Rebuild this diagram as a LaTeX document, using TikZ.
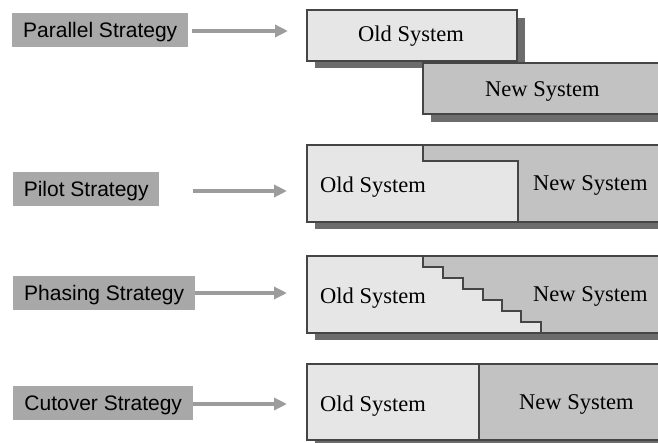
\documentclass[tikz,border=0pt]{standalone}
\usepackage{fontspec}
\setmainfont{Liberation Serif}
\newfontfamily\labfont{Liberation Sans}
\usetikzlibrary{arrows.meta}
\definecolor{oldc}{HTML}{E6E6E6}
\definecolor{newc}{HTML}{C2C2C2}
\definecolor{shad}{HTML}{6C6C6C}
\definecolor{labc}{HTML}{A8A8A8}
\definecolor{arrc}{HTML}{9C9C9C}
\definecolor{edgec}{HTML}{454545}
\begin{document}
\begin{tikzpicture}[x=1pt,y=-1pt,
  lab/.style={rectangle, fill=labc, anchor=west, inner sep=0pt, minimum height=34pt,
    text height=15pt, text depth=0pt, font=\labfont\fontsize{21}{25}\selectfont},
  sys/.style={anchor=base west, inner sep=0pt, font=\fontsize{22.5}{27}\selectfont},
  arr/.style={draw=arrc, line width=3.5pt, -{Triangle[length=13pt,width=12pt]}},
  bx/.style={draw=edgec, line width=1.2pt},
  sh/.style={fill=shad}]
\useasboundingbox (0,0) rectangle (658,442);
\clip (0,0) rectangle (658,442);

% ---------- labels ----------
\node[lab, minimum width=176pt] (parlab) at (12,30) {Parallel Strategy};
\node[lab, minimum width=146pt] (pillab) at (13,189) {Pilot Strategy};
\node[lab, minimum width=182pt] (phalab) at (13,292.5) {Phasing Strategy};
\node[lab, minimum width=180pt] (cutlab) at (13,402.5) {Cutover Strategy};

% arrow ends
\coordinate (parend) at (288,31);
\coordinate (pilend) at (287,191);
\coordinate (phaend) at (287,293);
\coordinate (cutend) at (287,404);

\draw[arr, shorten <=4pt] (parlab.east |- parend) -- (parend);
\draw[arr, shorten <=34pt] (pillab.east |- pilend) -- (pilend);
\draw[arr] (phalab.east |- phaend) -- (phaend);
\draw[arr] (cutlab.east |- cutend) -- (cutend);

% ---------- Parallel ----------
\fill[sh] (315,18) rectangle (525,68);
\filldraw[bx, fill=oldc] (307,10) rectangle (517,61);
\fill[sh] (431,71) rectangle (680,122);
\filldraw[bx, fill=newc] (423,63) rectangle (672,114);
\node[sys] (parold) at (358,41.7) {Old System};
\node[sys] (parnew) at (485,96.7) {New System};

% ---------- Pilot ----------
\fill[sh] (315,153) rectangle (680,229);
\fill[newc] (307,145) rectangle (672,222);
\filldraw[bx, fill=oldc] (307,145) -- (423,145) -- (423,161) -- (518,161) -- (518,222) -- (307,222) -- cycle;
\draw[bx] (307,145) rectangle (672,222);
\node[sys] (pilold) at (320,192.5) {Old System};
\node[sys] (pilnew) at (533,190.7) {New System};

% ---------- Phasing ----------
\fill[sh] (315,264) rectangle (680,340);
\fill[newc] (307,256) rectangle (672,333);
\filldraw[bx, fill=oldc] (307,256) -- (423,256) -- (423,267) -- (443,267) -- (443,278)
  -- (463,278) -- (463,289) -- (483,289) -- (483,300) -- (502,300) -- (502,311)
  -- (521,311) -- (521,322) -- (541,322) -- (541,333) -- (307,333) -- cycle;
\draw[bx] (307,256) rectangle (672,333);
\node[sys] (phaold) at (320,303.3) {Old System};
\node[sys] (phanew) at (533,301) {New System};

% ---------- Cutover ----------
\fill[sh] (315,372) rectangle (680,448);
\fill[newc] (307,364) rectangle (672,440);
\filldraw[bx, fill=oldc] (307,364) rectangle (479,440);
\draw[bx] (307,364) rectangle (672,440);
\node[sys] (cutold) at (320,411.7) {Old System};
\node[sys] (cutnew) at (519,409.3) {New System};
\end{tikzpicture}
\end{document}
